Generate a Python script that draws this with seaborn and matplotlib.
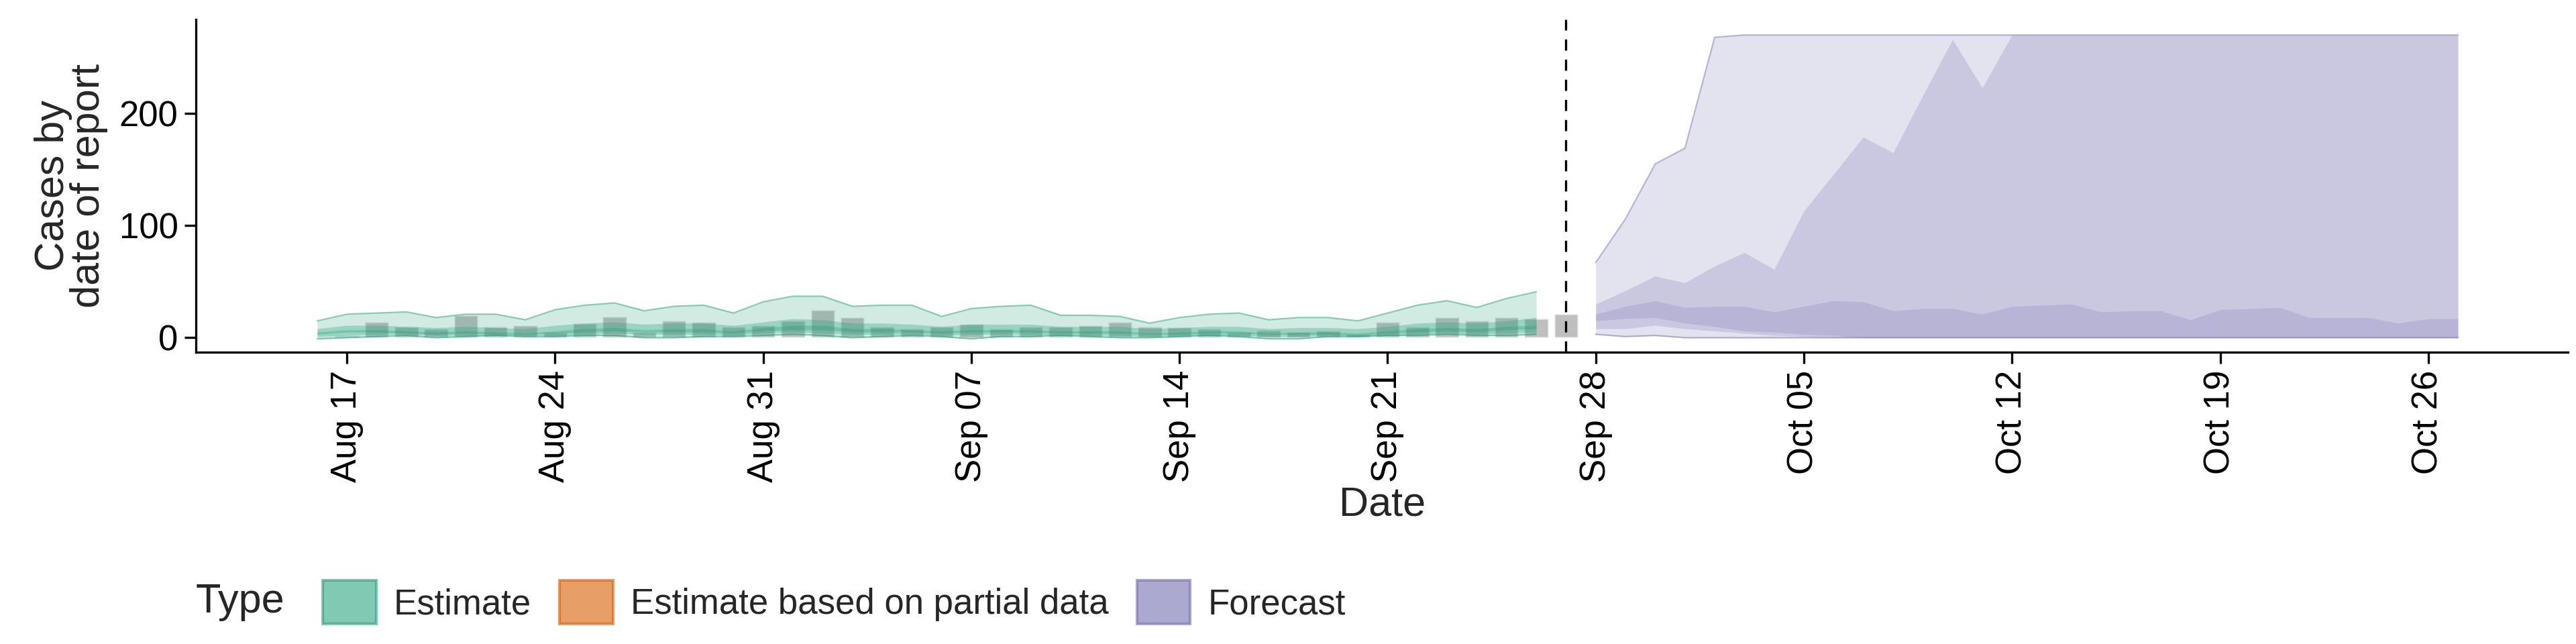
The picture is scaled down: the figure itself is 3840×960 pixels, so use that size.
import matplotlib
matplotlib.use("Agg")
import matplotlib.pyplot as plt
from matplotlib.patches import Patch
import seaborn as sns
import pandas as pd

# reported cases (bars), Aug 17 - Sep 27
report_dates = pd.date_range("2020-08-17", "2020-09-27")
reported = [2, 14, 10, 8, 20, 10, 11, 5, 13, 19, 5, 15, 14, 10, 11, 15, 25, 18, 10, 8,
            10, 12, 8, 10, 10, 11, 14, 10, 9, 8, 5, 7, 5, 6, 3, 14, 10, 18, 15, 18, 17, 21]

# estimate quantiles, Aug 16 - Sep 26
est_dates = pd.date_range("2020-08-16", "2020-09-26")
est_up90 = [15, 21, 22, 23, 18, 21, 21, 16, 25, 29, 31, 24, 28, 29, 22, 32, 37, 37, 28, 29, 29,
            19, 26, 28, 29, 20, 20, 19, 13, 18, 21, 22, 16, 18, 18, 15, 22, 29, 33, 27, 35, 41]
est_up50 = [8, 11, 11, 10, 9, 10, 9, 8, 11, 13, 14, 12, 13, 13, 11, 14, 17, 16, 13, 13, 12,
            10, 12, 12, 12, 10, 10, 10, 8, 9, 10, 10, 8, 9, 9, 8, 10, 13, 14, 13, 15, 18]
est_up20 = [5, 7, 7, 6, 5, 6, 5, 4, 6, 8, 9, 7, 8, 8, 6, 9, 11, 11, 8, 8, 7,
            6, 7, 7, 7, 6, 6, 6, 4, 5, 6, 6, 4, 5, 5, 4, 6, 8, 9, 8, 10, 11]
est_lo20 = [3, 5, 5, 4, 3, 4, 3, 3, 4, 5, 6, 5, 5, 5, 4, 6, 7, 7, 5, 5, 5,
            4, 5, 5, 5, 4, 4, 4, 3, 3, 4, 4, 3, 3, 3, 2, 4, 5, 6, 5, 7, 8]
est_lo50 = [1, 2, 3, 3, 2, 2, 2, 2, 2, 3, 4, 3, 3, 3, 2, 4, 5, 4, 3, 3, 3,
            2, 3, 3, 3, 2, 2, 2, 1, 2, 2, 2, 1, 1, 2, 1, 2, 3, 4, 3, 4, 5]
est_lo90 = [-1, 0, 1, 2, 0, 1, 2, 1, 1, 2, 2, 0, 0, 1, 1, 2, 3, 2, 0, 1, 2,
            1, -1, 1, 1, 2, 1, 0, 0, 1, 2, 1, -1, -1, 1, 1, 2, 2, 3, 2, 2, 3]

# forecast quantiles, Sep 28 - Oct 27
fc_dates = pd.date_range("2020-09-28", "2020-10-27")
fc_up90 = [67, 106, 155, 169, 268] + [270] * 25
fc_up50 = [30, 42, 55, 49, 64, 76, 61, 113, 146, 179, 165, 216, 266, 223] + [270] * 16
fc_up20 = [21, 28, 33, 27, 28, 28, 23, 28, 33, 32, 24, 26, 26, 21, 28, 29, 30, 23, 24, 24,
           16, 25, 26, 27, 18, 18, 18, 13, 17, 17]
fc_lo20 = [15, 17, 18, 13, 10, 6, 5, 3, 2] + [0] * 21
fc_lo50 = [8, 8, 11, 8, 6, 4, 2, 1] + [0] * 22
fc_lo90 = [3, 1, 2] + [0] * 27

sns.set_theme(style="ticks")
plt.rcParams["font.family"] = ["Liberation Sans", "DejaVu Sans"]

fig = plt.figure(figsize=(19.2, 4.8), dpi=200)
ax = fig.add_axes([0.076, 0.453, 0.921, 0.517])

ax.bar(report_dates, reported, width=0.8, color="grey", alpha=0.5, zorder=1)

green, purple = "#1b9e77", "#7570b3"
for dates, lo, up, col, levels in [
    (est_dates, [est_lo90, est_lo50, est_lo20], [est_up90, est_up50, est_up20], green, [0.2, 0.3, 0.3]),
    (fc_dates, [fc_lo90, fc_lo50, fc_lo20], [fc_up90, fc_up50, fc_up20], purple, [0.2, 0.22, 0.22]),
]:
    for l, u, a in zip(lo, up, levels):
        ax.fill_between(dates, l, u, color=col, alpha=a, linewidth=0, zorder=2)
    sns.lineplot(x=dates, y=up[0], color=col, alpha=0.5, linewidth=0.8, ax=ax, zorder=3)
    sns.lineplot(x=dates, y=lo[0], color=col, alpha=0.5, linewidth=0.8, ax=ax, zorder=3)

ax.axvline(pd.Timestamp("2020-09-27"), color="black", linestyle="--", linewidth=1.2, dashes=(5, 4))

ax.set_xlim(pd.Timestamp("2020-08-11 22:00"), pd.Timestamp("2020-10-30 17:00"))
ax.set_ylim(-13, 284)
ax.set_yticks([0, 100, 200])
ticks = pd.date_range("2020-08-17", "2020-10-26", freq="7D")
ax.set_xticks(ticks)
ax.set_xticklabels([d.strftime("%b %d") for d in ticks], rotation=90)
ax.tick_params(labelsize=19, width=1.2, length=6, color="black", labelcolor="black")
ax.set_xlabel("Date", fontsize=22, labelpad=2)
ax.set_ylabel("Cases by\ndate of report", fontsize=22, linespacing=0.9, labelpad=6)
sns.despine(ax=ax)
for s in ["left", "bottom"]:
    ax.spines[s].set_linewidth(1.2)
    ax.spines[s].set_color("black")

handles = [
    Patch(facecolor=green, edgecolor=green, alpha=0.55, linewidth=1.5, label="Estimate"),
    Patch(facecolor="#d95f02", edgecolor="#d95f02", alpha=0.6, linewidth=1.5, label="Estimate based on partial data"),
    Patch(facecolor=purple, edgecolor=purple, alpha=0.6, linewidth=1.5, label="Forecast"),
]
fig.text(0.076, 0.065, "Type", fontsize=22, va="center")
fig.legend(handles=handles, loc="center left", bbox_to_anchor=(0.113, 0.065), ncol=3,
           frameon=False, fontsize=19, handlelength=1.5, handleheight=1.5,
           handletextpad=0.5, columnspacing=0.8)

fig.savefig("out.png", dpi=200)
